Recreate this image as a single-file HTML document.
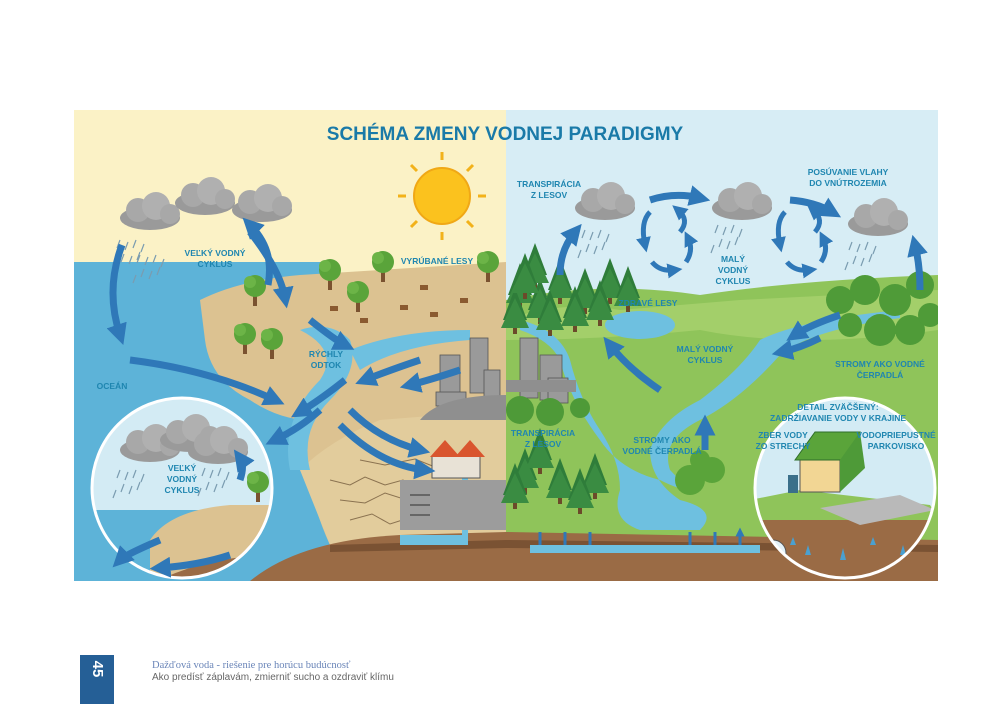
<!DOCTYPE html>
<html><head><meta charset="utf-8"><style>
html,body{margin:0;padding:0;background:#fff;width:1000px;height:704px;overflow:hidden;font-family:"Liberation Sans",sans-serif}
svg text{font-family:"Liberation Sans",sans-serif;font-weight:bold;fill:#1f86b0}
</style></head><body>
<svg width="1000" height="704" viewBox="0 0 1000 704" xmlns="http://www.w3.org/2000/svg">
<defs>
<marker id="ah" viewBox="0 0 10 10" refX="5" refY="5" markerWidth="3" markerHeight="3" orient="auto"><path d="M0,0 L10,5 L0,10 z" fill="#2f78b8"/></marker>
<clipPath id="frame"><rect x="74" y="110" width="864" height="471"/></clipPath>
<clipPath id="lc"><circle cx="182" cy="488" r="89"/></clipPath>
<clipPath id="rc"><circle cx="845" cy="488" r="89"/></clipPath>
<g id="cloud"><ellipse cx="0" cy="0" rx="30" ry="12" fill="#9a9a9a"/><circle cx="-12" cy="-8" r="12" fill="#a8a8a8"/><circle cx="6" cy="-12" r="14" fill="#b0b0b0"/><circle cx="20" cy="-4" r="10" fill="#a8a8a8"/></g>
<g id="rain" stroke="#7a9cb0" stroke-width="1.2"><path d="M0,0l-3,8M8,2l-3,8M16,0l-3,8M4,14l-3,8M12,16l-3,8M20,12l-3,8M-4,20l-3,8M24,4l-3,8"/></g>
<g id="pine"><path d="M0,-32 L12,0 L-12,0z" fill="#2f7d3a"/><path d="M0,-22 L14,8 L-14,8z" fill="#3a8c42"/><rect x="-2" y="8" width="4" height="6" fill="#6b4a2a"/></g>
<g id="tree"><rect x="-2" y="0" width="4" height="14" fill="#7a5230"/><circle cx="0" cy="-6" r="11" fill="#5aa43a"/><circle cx="-5" cy="-10" r="6" fill="#6cb447"/></g>
</defs>
<g clip-path="url(#frame)">
<rect x="74" y="110" width="432" height="471" fill="#fbf2c6"/>
<rect x="506" y="110" width="432" height="471" fill="#d7edf5"/>
<path d="M74,262 L330,262 L330,581 L74,581z" fill="#5db3d8"/>
<path d="M200,300 Q240,280 300,275 L506,262 L506,540 L330,545 Q300,480 310,420 Q280,420 250,400 Q210,380 205,340 z" fill="#dcc291"/>
<path d="M300,470 Q330,440 380,420 L506,410 L506,540 L330,545z" fill="#e2cc9c"/>
<g stroke="#8a7250" stroke-width="1" fill="none"><path d="M330,480 l20,5 l15,-8 l20,8 l18,-5 l20,10M340,500 l25,3 l20,-10 l25,8 l20,-4M350,520 l22,-6 l18,10 l25,-8M360,460 l25,5 l30,-6 l20,8"/></g>
<path d="M506,300 Q600,280 700,295 Q800,280 938,275 L938,545 L506,545z" fill="#8fc45a"/>
<path d="M506,320 Q560,300 620,310 L740,300 L938,290 L938,330 Q800,350 700,330 Q600,340 506,340z" fill="#a3cf6a"/>
<path d="M250,581 Q300,540 400,535 L506,532 L938,540 L938,581z" fill="#9a6b45"/>
<path d="M330,545 L506,540 L938,545 L938,552 L506,548 L330,552z" fill="#7a5233"/>
<path d="M300,330 Q330,320 350,340 Q360,370 330,400 Q300,430 310,470 L290,470 Q280,420 320,380 Q340,350 300,330z" fill="#6ec0e0"/>
<path d="M350,350 Q400,330 470,330 L470,340 Q400,345 360,370z" fill="#6ec0e0"/>
<path d="M400,535 L462,535 L462,470 L468,470 L468,545 L400,545z" fill="#6ec0e0"/>
<path d="M520,320 Q560,330 570,360 Q580,400 600,430 Q620,460 620,490 Q610,520 640,530 L700,530 Q720,510 680,500 Q650,480 650,450 Q660,420 700,400 Q740,370 760,340 Q800,320 900,310 L900,318 Q810,330 780,355 Q740,400 700,420 Q660,440 670,470 Q700,500 660,480 Q620,470 600,440 Q570,400 560,360 Q550,340 520,330z" fill="#6ec0e0"/>
<ellipse cx="640" cy="325" rx="35" ry="14" fill="#6ec0e0"/>
<path d="M530,545 L760,545 L760,553 L530,553z" fill="#6ec0e0"/>
<g fill="#9a9a9a" stroke="#555" stroke-width="0.8">
<rect x="440" y="355" width="20" height="40"/><rect x="470" y="338" width="18" height="55"/><rect x="484" y="370" width="16" height="30"/>
<rect x="520" y="338" width="18" height="60"/><rect x="540" y="355" width="22" height="45"/><rect x="548" y="378" width="20" height="25"/>
<rect x="436" y="392" width="30" height="14"/>
</g>
<path d="M420,420 Q440,395 506,395 L506,420z" fill="#8f8f8f"/>
<rect x="506" y="380" width="70" height="12" fill="#8f8f8f"/>
<path d="M400,480 L506,480 L506,530 L400,530z" fill="#9c9c9c"/>
<g stroke="#555" stroke-width="1.5"><path d="M410,495h20M410,505h20M410,515h20"/></g>
<rect x="432" y="456" width="48" height="22" fill="#e8e2d6" stroke="#555"/>
<path d="M430,457 L445,440 L460,457z M455,457 L470,440 L485,457z" fill="#d9552e"/>
<use href="#tree" x="245" y="340"/><use href="#tree" x="272" y="345"/><use href="#tree" x="255" y="292"/><use href="#tree" x="330" y="276"/><use href="#tree" x="358" y="298"/><use href="#tree" x="383" y="268"/><use href="#tree" x="488" y="268"/>
<g fill="#8a5a30"><rect x="360" y="318" width="8" height="5"/><rect x="400" y="305" width="8" height="5"/><rect x="430" y="312" width="8" height="5"/><rect x="460" y="298" width="8" height="5"/><rect x="420" y="285" width="8" height="5"/><rect x="330" y="306" width="8" height="5"/></g>
<g>
<use href="#pine" x="520" y="295"/><use href="#pine" x="540" y="310"/><use href="#pine" x="560" y="290"/><use href="#pine" x="585" y="300"/><use href="#pine" x="610" y="290"/><use href="#pine" x="628" y="298"/><use href="#pine" x="535" y="275"/>
<use href="#pine" x="515" y="320"/><use href="#pine" x="550" y="322"/><use href="#pine" x="575" y="318"/><use href="#pine" x="600" y="312"/><use href="#pine" x="525" y="285"/>
<use href="#pine" x="525" y="480"/><use href="#pine" x="560" y="490"/><use href="#pine" x="595" y="485"/><use href="#pine" x="540" y="460"/><use href="#pine" x="515" y="495"/><use href="#pine" x="580" y="500"/>
</g>
<circle cx="520" cy="410" r="14" fill="#4e9a38"/><circle cx="550" cy="412" r="14" fill="#4e9a38"/><circle cx="580" cy="408" r="10" fill="#4e9a38"/>
<g fill="#4f9b38"><circle cx="840" cy="300" r="14"/><circle cx="865" cy="290" r="15"/><circle cx="895" cy="300" r="16"/><circle cx="920" cy="285" r="14"/><circle cx="880" cy="330" r="16"/><circle cx="910" cy="330" r="15"/><circle cx="850" cy="325" r="12"/><circle cx="930" cy="315" r="12"/></g>
<g fill="#5aa43a"><circle cx="690" cy="480" r="15"/><circle cx="712" cy="470" r="13"/><circle cx="700" cy="460" r="10"/></g>
<g stroke="#f2b21a" stroke-width="3"><path d="M442,160v-8M442,232v8M406,196h-8M478,196h8M417,171l-6,-6M467,221l6,6M467,171l6,-6M417,221l-6,6"/></g>
<circle cx="442" cy="196" r="28" fill="#fbc21e" stroke="#f0a816" stroke-width="2"/>
<use href="#cloud" x="150" y="218"/>
<use href="#cloud" x="205" y="203"/><use href="#cloud" x="262" y="210"/>
<use href="#rain" x="120" y="240"/><use href="#rain" x="140" y="255"/>
<use href="#cloud" x="605" y="208"/><use href="#cloud" x="742" y="208"/><use href="#cloud" x="878" y="224"/>
<use href="#rain" x="585" y="230"/><use href="#rain" x="718" y="225"/><use href="#rain" x="852" y="242"/>
<g clip-path="url(#lc)">
<rect x="90" y="395" width="190" height="190" fill="#d3ebf4"/>
<rect x="90" y="510" width="190" height="80" fill="#5db3d8"/>
<path d="M150,540 Q170,510 230,505 L280,505 L280,590 L150,590z" fill="#dcc291"/>
<path d="M140,590 Q200,555 280,555 L280,590z" fill="#9a6b45"/>
<use href="#cloud" x="150" y="450"/><use href="#cloud" x="190" y="440"/><use href="#cloud" x="218" y="452"/>
<use href="#rain" x="120" y="470"/><use href="#rain" x="205" y="468"/>
<use href="#tree" x="258" y="488"/>
</g>
<circle cx="182" cy="488" r="90" fill="none" stroke="#fff" stroke-width="3"/>
<g clip-path="url(#rc)">
<rect x="750" y="395" width="190" height="190" fill="#d3ebf4"/>
<path d="M750,500 L800,490 L930,505 L940,520 L940,590 L750,590z" fill="#8fc45a"/>
<path d="M750,520 L940,520 L940,590 L750,590z" fill="#9a6b45"/>
<path d="M820,508 L900,495 L935,510 L860,525z" fill="#b9b9b9"/>
<rect x="800" y="458" width="40" height="34" fill="#f2d694" stroke="#555"/>
<path d="M795,460 L815,432 L860,432 L845,460z" fill="#5aa43a" stroke="#2f6e2a"/>
<path d="M840,460 L860,432 L865,468 L840,492z" fill="#4e9a38"/>
<rect x="788" y="475" width="10" height="18" fill="#3a6f8a"/>
<g fill="#4aa0d0"><path d="M790,545 l3,-8 l3,8z"/><path d="M805,555 l3,-10 l3,10z"/><path d="M840,560 l3,-12 l3,12z"/><path d="M870,545 l3,-8 l3,8z"/><path d="M900,555 l3,-10 l3,10z"/></g>
<circle cx="773" cy="553" r="13" fill="#e3f1f8" stroke="#555"/>
</g>
<circle cx="845" cy="488" r="90" fill="none" stroke="#fff" stroke-width="3"/>
<g fill="none" stroke="#2f78b8" stroke-width="7" marker-end="url(#ah)">
<path d="M122,245 Q105,290 120,335"/>
<path d="M250,232 Q280,270 285,298"/>
<path d="M268,285 Q275,250 250,225"/>
<path d="M130,360 Q210,370 275,400"/>
<path d="M310,320 Q335,340 345,345"/>
<path d="M420,360 Q390,370 365,380"/>
<path d="M345,380 Q320,400 300,412"/>
<path d="M320,410 Q300,428 275,440"/>
<path d="M350,410 Q380,440 420,450"/>
<path d="M340,425 Q380,465 425,470"/>
<path d="M460,370 Q430,380 410,385"/>
<path d="M160,540 Q125,555 120,560"/>
<path d="M230,555 Q200,565 160,568"/>
<path d="M240,480 Q245,465 240,458"/>
<path d="M560,275 Q560,250 575,232"/>
<path d="M650,200 Q675,192 700,198"/>
<path d="M790,200 Q815,202 832,212"/>
<path d="M920,290 Q920,265 915,245"/>
<path d="M840,315 Q810,325 795,335"/>
<path d="M820,338 Q800,348 782,352"/>
<path d="M660,390 Q630,370 610,345"/>
<path d="M705,450 L705,425"/>
</g>
<g fill="none" stroke="#2f78b8" stroke-width="5" marker-end="url(#ah)">
<path d="M680,232 Q690,220 678,210"/><path d="M650,212 Q640,222 645,245"/><path d="M652,262 Q660,272 675,270"/><path d="M686,262 Q694,250 688,238"/>
<path d="M815,232 Q825,220 813,210"/><path d="M785,212 Q775,222 780,245"/><path d="M787,262 Q795,272 810,270"/><path d="M821,262 Q829,250 823,238"/>
</g>
<g stroke="#2f78b8" fill="#fff" marker-end="url(#ah)"><path d="M540,545 V532M565,545 V532M590,545 V532M690,545 V532M715,545 V532M740,545 V532" stroke-width="3"/></g>
<text x="505" y="140" text-anchor="middle" font-size="19" style="fill:#1a7aa8">SCHÉMA ZMENY VODNEJ PARADIGMY</text>
<g font-size="8.5" text-anchor="middle">
<text x="215" y="256">VEĽKÝ VODNÝ</text><text x="215" y="267">CYKLUS</text>
<text x="437" y="264">VYRÚBANÉ LESY</text>
<text x="326" y="357">RÝCHLY</text><text x="326" y="368">ODTOK</text>
<text x="112" y="389">OCEÁN</text>
<text x="182" y="471">VEĽKÝ</text><text x="182" y="482">VODNÝ</text><text x="182" y="493">CYKLUS</text>
<text x="549" y="187">TRANSPIRÁCIA</text><text x="549" y="198">Z LESOV</text>
<text x="848" y="175">POSÚVANIE VLAHY</text><text x="848" y="186">DO VNÚTROZEMIA</text>
<text x="733" y="262">MALÝ</text><text x="733" y="273">VODNÝ</text><text x="733" y="284">CYKLUS</text>
<text x="648" y="306">ZDRAVÉ LESY</text>
<text x="705" y="352">MALÝ VODNÝ</text><text x="705" y="363">CYKLUS</text>
<text x="880" y="367">STROMY AKO VODNÉ</text><text x="880" y="378">ČERPADLÁ</text>
<text x="543" y="436">TRANSPIRÁCIA</text><text x="543" y="447">Z LESOV</text>
<text x="662" y="443">STROMY AKO</text><text x="662" y="454">VODNÉ ČERPADLÁ</text>
<text x="838" y="410">DETAIL ZVÄČŠENÝ:</text><text x="838" y="421">ZADRŽIAVANIE VODY V KRAJINE</text>
<text x="783" y="438">ZBER VODY</text><text x="783" y="449">ZO STRECHY</text>
<text x="896" y="438">VODOPRIEPUSTNÉ</text><text x="896" y="449">PARKOVISKO</text>
</g>
</g>
<rect x="80" y="655" width="34" height="49" fill="#255f96"/>
<text x="97" y="669" font-size="15" transform="rotate(90 97 669)" text-anchor="middle" dominant-baseline="middle" style="fill:#fff">45</text>
<text x="152" y="668" font-size="10.5" style="fill:#6a85b8;font-family:'Liberation Serif',serif;font-weight:normal">Dažďová voda - riešenie pre horúcu budúcnosť</text>
<text x="152" y="680" font-size="10" style="fill:#666;font-weight:normal">Ako predísť záplavám, zmierniť sucho a ozdraviť klímu</text>
</svg>
</body></html>
